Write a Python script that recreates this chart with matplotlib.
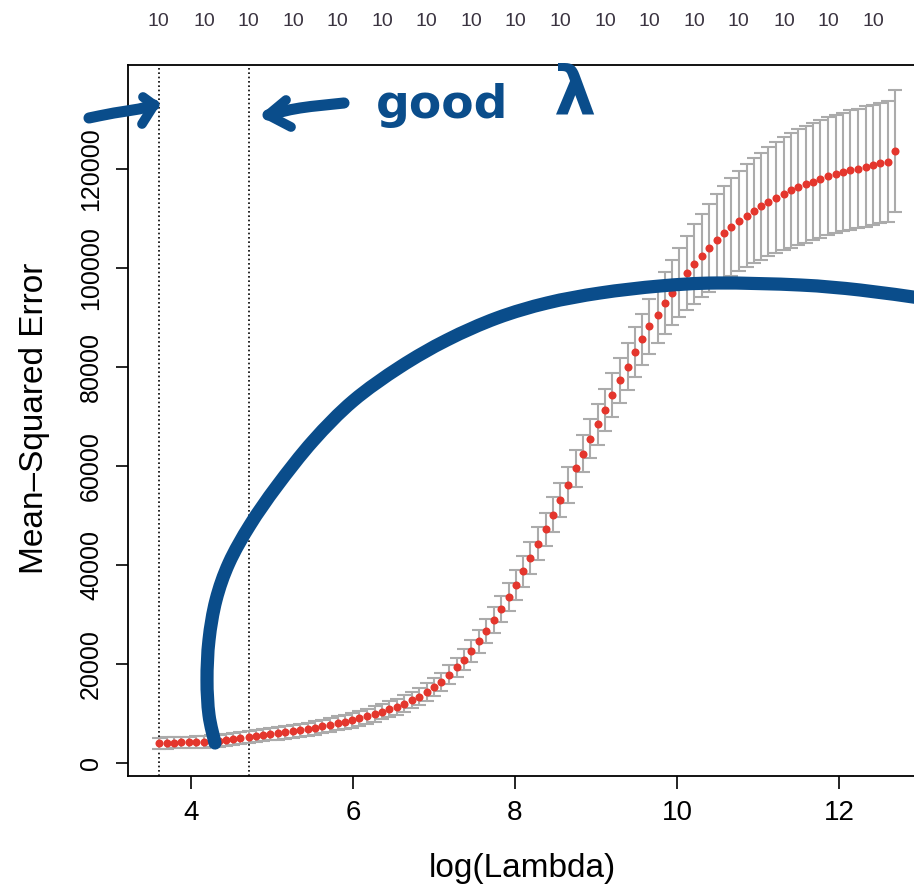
import numpy as np
import matplotlib
matplotlib.use("Agg")
import matplotlib.pyplot as plt
from matplotlib import font_manager
from matplotlib.path import Path
from matplotlib.patches import PathPatch
from matplotlib.transforms import blended_transform_factory

# Data: cv.glmnet style curve (log lambda, mean CV error, std error)
log_lambda = [3.60, 3.70, 3.79, 3.88, 3.97, 4.06, 4.16, 4.25, 4.34, 4.43,
              4.52, 4.61, 4.71, 4.80, 4.89, 4.98, 5.07, 5.16, 5.26, 5.35,
              5.44, 5.53, 5.62, 5.72, 5.81, 5.90, 5.99, 6.08, 6.17, 6.27,
              6.36, 6.45, 6.54, 6.63, 6.73, 6.82, 6.91, 7.00, 7.09, 7.18,
              7.28, 7.37, 7.46, 7.55, 7.64, 7.74, 7.83, 7.92, 8.01, 8.10,
              8.19, 8.29, 8.38, 8.47, 8.56, 8.65, 8.75, 8.84, 8.93, 9.02,
              9.11, 9.20, 9.30, 9.39, 9.48, 9.57, 9.66, 9.76, 9.85, 9.94,
              10.03, 10.12, 10.21, 10.31, 10.40, 10.49, 10.58, 10.67, 10.76, 10.86,
              10.95, 11.04, 11.13, 11.22, 11.32, 11.41, 11.50, 11.59, 11.68, 11.77,
              11.87, 11.96, 12.05, 12.14, 12.23, 12.33, 12.42, 12.51, 12.60, 12.69]

cv_mean = [4000, 4050, 4100, 4150, 4200, 4250, 4300, 4400, 4500, 4600,
           4800, 5000, 5250, 5450, 5650, 5850, 6000, 6200, 6400, 6600,
           6800, 7100, 7400, 7700, 8000, 8300, 8600, 9000, 9400, 9900,
           10400, 10900, 11400, 12000, 12700, 13400, 14300, 15300, 16400, 17800,
           19300, 20900, 22700, 24600, 26700, 28900, 31100, 33600, 36000, 38700,
           41400, 44300, 47200, 50200, 53100, 56200, 59500, 62500, 65500, 68400,
           71300, 74300, 77300, 80100, 83000, 85600, 88200, 90600, 92900, 95000,
           97100, 99000, 100800, 102500, 104100, 105600, 107000, 108300, 109500, 110600,
           111600, 112500, 113400, 114200, 115000, 115700, 116300, 116900, 117400, 118000,
           118600, 119000, 119400, 119800, 120100, 120500, 120800, 121200, 121500, 123700]

cv_sd = [1150, 1150, 1150, 1150, 1150, 1160, 1170, 1180, 1190, 1200,
         1210, 1220, 1230, 1240, 1250, 1260, 1270, 1280, 1300, 1320,
         1340, 1360, 1380, 1400, 1420, 1440, 1460, 1480, 1500, 1520,
         1550, 1580, 1610, 1640, 1680, 1720, 1770, 1820, 1880, 1940,
         2000, 2100, 2200, 2300, 2450, 2600, 2700, 2850, 3000, 3150,
         3300, 3350, 3400, 3450, 3500, 3600, 3700, 3800, 3950, 4100,
         4300, 4450, 4600, 4800, 5000, 5200, 5500, 5800, 6200, 6600,
         7000, 7500, 8000, 8400, 8900, 9300, 9600, 9900, 10100, 10400,
         10600, 10800, 11000, 11200, 11400, 11600, 11700, 11750, 11800, 11850,
         11900, 11950, 12000, 12050, 12100, 12150, 12200, 12200, 12250, 12300]

n_nonzero = [10] * 100
lambda_min = 3.60
lambda_1se = 4.71
x_ticks = [4, 6, 8, 10, 12]
y_ticks = [0, 20000, 40000, 60000, 80000, 100000, 120000]

# hand drawn annotation strokes (figure pixels, from top-left)
big_curve = [(215, 743), (209, 715), (207, 680), (209, 640), (216, 600), (229, 563),
             (250, 525), (277, 486), (313, 441), (353, 401), (400, 367), (447, 340),
             (497, 318), (547, 303), (600, 293), (660, 286), (717, 283), (800, 285),
             (860, 290), (920, 298)]
left_arrow = [(89, 118), (114, 113), (139, 109), (154, 105)]
left_head = [(143, 97), (154, 105), (142, 124)]
right_arrow = [(344, 103), (300, 108), (268, 115)]
right_head = [(286, 100), (268, 115), (291, 127)]

available = {f.name for f in font_manager.fontManager.ttflist}
font = "Liberation Sans Narrow" if "Liberation Sans Narrow" in available else "Liberation Sans"
plt.rcParams['font.family'] = [font, 'DejaVu Sans']

W, H = 914, 890
fig = plt.figure(figsize=(W / 100, H / 100), dpi=100)
ax = fig.add_axes([128 / W, 1 - 776 / H, 796 / W, 711 / H])

ax.errorbar(log_lambda, cv_mean, yerr=cv_sd, fmt='none', ecolor='#ababab',
            elinewidth=1.5, capsize=5, capthick=1.5, zorder=2)
ax.plot(log_lambda, cv_mean, 'o', color='#e4362d', markersize=5.8,
        markeredgewidth=0, zorder=3)

ax.axvline(lambda_min, color='black', lw=1.2, ls=(0, (1, 1.6)), zorder=1)
ax.axvline(lambda_1se, color='black', lw=1.2, ls=(0, (1, 1.6)), zorder=1)

ax.set_xlim(3.222, 13.05)
ax.set_ylim(-2626, 141010)
ax.set_xticks(x_ticks, labels=[str(t) for t in x_ticks], fontsize=20)
ax.set_yticks(y_ticks, labels=[str(t) for t in y_ticks], fontsize=18,
              rotation=90, va='center')
ax.tick_params(axis='both', length=9, width=1.2, color='black')
ax.tick_params(axis='x', pad=8)
ax.tick_params(axis='y', pad=9)
for s in ax.spines.values():
    s.set_linewidth(1.3)

fig.text(522 / W, 1 - 868 / H, 'log(Lambda)', ha='center', va='center', fontsize=24)
fig.text(35 / W, 1 - 418 / H, 'Mean\u2013Squared Error', ha='center', va='center',
         rotation=90, fontsize=24)

# number of nonzero coefficients along the top
top = blended_transform_factory(ax.transData, fig.transFigure)
for i in range(0, len(log_lambda), 6):
    ax.text(log_lambda[i], 1 - 22 / H, str(n_nonzero[i]), transform=top,
            ha='center', va='center', fontsize=14, color='#3a3340', clip_on=False)

# hand drawn annotations
blue = '#0a4d8b'


def to_fig(pts):
    return np.array([(p[0] / W, 1 - p[1] / H) for p in pts])


def stroke(pts, lw):
    xy = to_fig(pts)
    fig.add_artist(plt.Line2D(xy[:, 0], xy[:, 1], transform=fig.transFigure, color=blue,
                              lw=lw, solid_capstyle='round', solid_joinstyle='round',
                              zorder=10))


def smooth_stroke(pts, lw):
    # Catmull-Rom through the pen points, drawn as cubic Bezier segments
    p = to_fig(pts)
    verts = [p[0]]
    codes = [Path.MOVETO]
    for i in range(len(p) - 1):
        p0 = p[i - 1] if i > 0 else p[i]
        p3 = p[i + 2] if i + 2 < len(p) else p[i + 1]
        c1 = p[i] + (p[i + 1] - p0) / 6
        c2 = p[i + 1] - (p3 - p[i]) / 6
        verts += [c1, c2, p[i + 1]]
        codes += [Path.CURVE4] * 3
    patch = PathPatch(Path(verts, codes), transform=fig.transFigure, fill=False,
                      edgecolor=blue, lw=lw, capstyle='round', joinstyle='round',
                      zorder=10)
    fig.add_artist(patch)


smooth_stroke(big_curve, 9.5)
smooth_stroke(left_arrow, 8)
stroke(left_head, 7)
smooth_stroke(right_arrow, 8)
stroke(right_head, 7)
fig.text(442 / W, 1 - 106 / H, 'good', ha='center', va='center', fontsize=34,
         fontweight='bold', color=blue, family='DejaVu Sans', zorder=10)
fig.text(574 / W, 1 - 95 / H, '\u03bb', ha='center', va='center', fontsize=48,
         fontweight='bold', color=blue, family='DejaVu Sans', zorder=10)

fig.savefig('out.png', dpi=100)
